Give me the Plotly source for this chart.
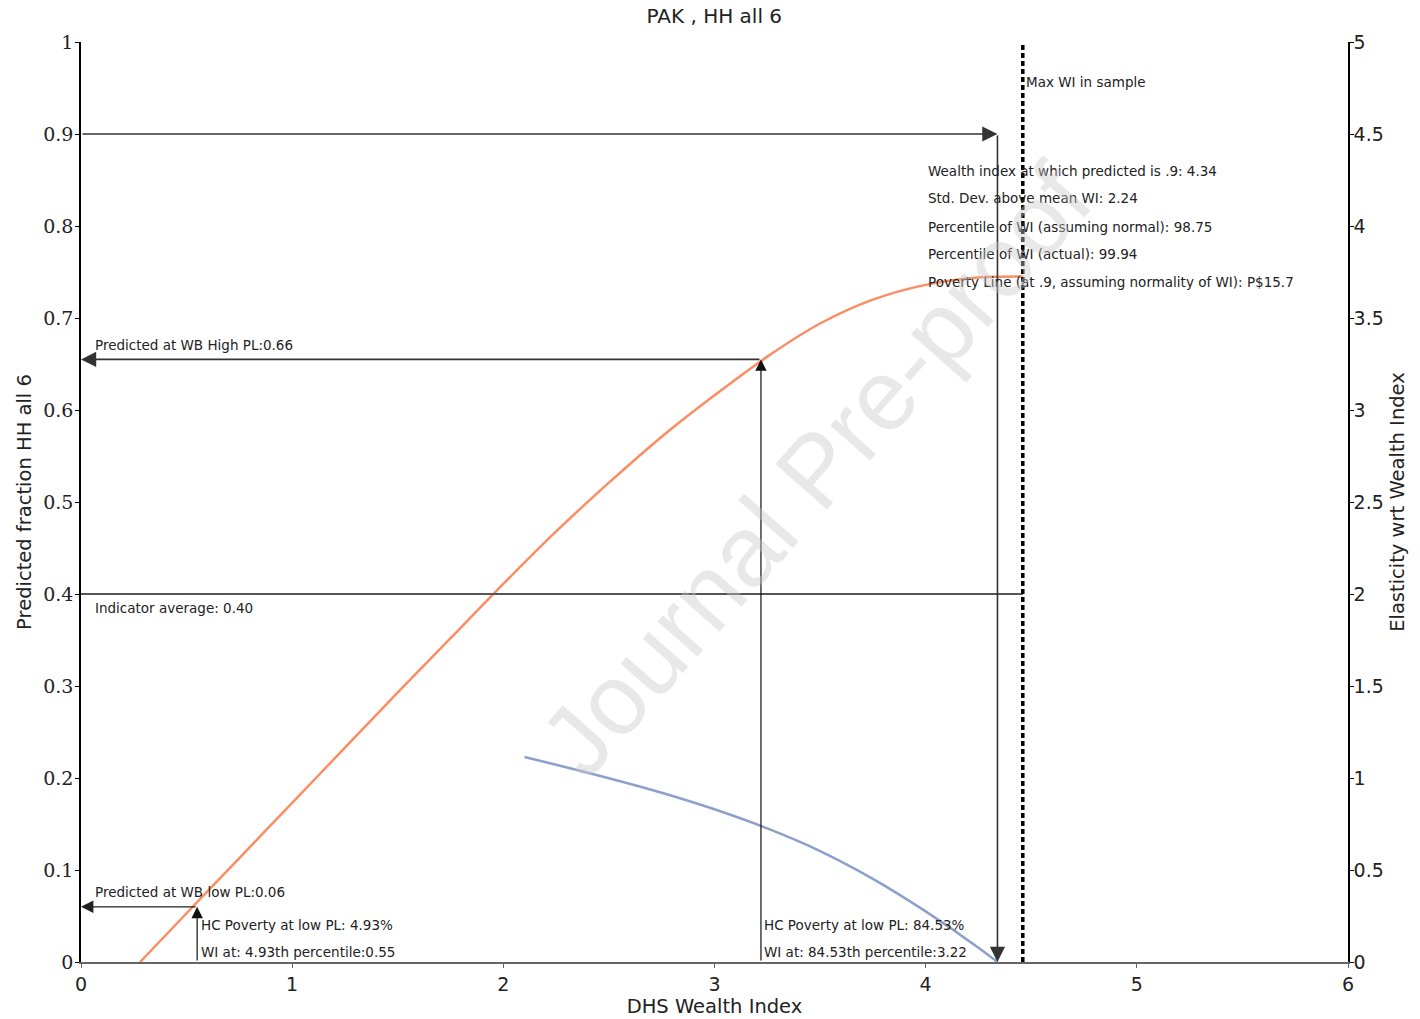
import plotly.graph_objects as go

# Predicted fraction (left axis)
wi_pred = [0.28, 0.5, 0.75, 1.0, 1.25, 1.5, 1.75, 2.0, 2.25, 2.5, 2.75, 3.0, 3.25, 3.5, 3.75, 4.0, 4.25, 4.46]
pred = [0.0, 0.053, 0.113, 0.173, 0.233, 0.293, 0.352, 0.411, 0.468, 0.521, 0.571, 0.616, 0.658, 0.694, 0.720, 0.736, 0.744, 0.745]

# Elasticity (right axis)
wi_elas = [2.10, 2.25, 2.5, 2.75, 3.0, 3.25, 3.5, 3.75, 4.0, 4.25, 4.34]
elas = [1.114, 1.072, 0.999, 0.920, 0.830, 0.726, 0.603, 0.452, 0.275, 0.078, 0.0]

# Reference values
max_wi = 4.46
wi_at_90 = 4.34
indicator_avg = 0.40
low_pl_wi, low_pl_pred = 0.55, 0.06
high_pl_wi, high_pl_pred = 3.22, 0.655

info_lines = [
    "Wealth index at which predicted is .9: 4.34",
    "Std. Dev. above mean WI: 2.24",
    "Percentile of WI (assuming normal): 98.75",
    "Percentile of WI (actual): 99.94",
    "Poverty Line (at .9, assuming normality of WI): P$15.7",
]
info_y = [0.860, 0.830, 0.799, 0.770, 0.739]

ANN_FONT = dict(family="DejaVu Sans", size=13.5, color="#222")
LINE_C = "#555555"
TXT_C = "#222"

fig = go.Figure()

fig.add_trace(go.Scatter(x=wi_pred, y=pred, mode="lines", line=dict(color="#fc8d62", width=2.5, shape="spline", smoothing=0.8),
                         showlegend=False, hoverinfo="skip"))
fig.add_trace(go.Scatter(x=wi_elas, y=elas, mode="lines", line=dict(color="#8da0cb", width=2.5, shape="spline", smoothing=0.8),
                         yaxis="y2", showlegend=False, hoverinfo="skip"))

shapes = []
shapes.append(dict(type="line", xref="x", yref="y", x0=0, x1=max_wi, y0=indicator_avg, y1=indicator_avg,
                   line=dict(color=LINE_C, width=1.8)))
shapes.append(dict(type="line", xref="x", yref="y", x0=max_wi, x1=max_wi, y0=0, y1=1,
                   line=dict(color="black", width=3.5, dash="5px,3px")))
fig.update_layout(shapes=shapes)

annotations = []

def arrow(x, y, ax, ay, color="#111", width=1.3):
    annotations.append(dict(x=x, y=y, ax=ax, ay=ay, xref="x", yref="y", axref="x", ayref="y",
                            text="", showarrow=True, arrowhead=2, arrowsize=1.9, arrowwidth=width,
                            arrowcolor=color, standoff=0, startstandoff=0))

arrow(wi_at_90, 0.9, 0, 0.9, color="#333", width=1.6)
arrow(wi_at_90, 0, wi_at_90, 0.9, color="#333", width=1.6)
arrow(0, high_pl_pred, high_pl_wi, high_pl_pred, color="#333", width=1.6)
arrow(high_pl_wi, high_pl_pred, high_pl_wi, 0, color="#111", width=1.2)
arrow(0, low_pl_pred, low_pl_wi, low_pl_pred, color="#222", width=1.3)
arrow(low_pl_wi, low_pl_pred, low_pl_wi, 0, color="#111", width=1.2)

def label(x, y, text):
    annotations.append(dict(x=x, y=y, xref="x", yref="y", text=text, showarrow=False,
                            xanchor="left", yanchor="middle", font=ANN_FONT))

label(4.465, 0.9565, "Max WI in sample")
for t, yy in zip(info_lines, info_y):
    label(4.0, yy, t)
label(0.058, 0.671, "Predicted at WB High PL:0.66")
label(0.058, 0.385, "Indicator average: 0.40")
label(0.058, 0.076, "Predicted at WB low PL:0.06")
label(0.56, 0.040, "HC Poverty at low PL: 4.93%")
label(0.56, 0.011, "WI at: 4.93th percentile:0.55")
label(3.225, 0.040, "HC Poverty at low PL: 84.53%")
label(3.225, 0.011, "WI at: 84.53th percentile:3.22")

annotations.append(dict(x=3.476, y=0.535, xref="x", yref="y", text="Journal Pre-proof", showarrow=False,
                        textangle=-48.6, xanchor="center", yanchor="middle",
                        font=dict(family="Liberation Sans", size=100, color="rgba(200,200,200,0.42)")))

fig.update_layout(annotations=annotations)

fig.update_layout(
    width=1420, height=1019,
    margin=dict(l=81, r=72, t=42, b=57, autoexpand=False),
    paper_bgcolor="white", plot_bgcolor="white",
    title=dict(text="PAK , HH all 6", x=0.503, xanchor="center", y=1 - 16 / 1019, yanchor="middle",
               font=dict(family="DejaVu Sans", size=20, color=TXT_C)),
    xaxis=dict(range=[0, 6], dtick=1, tick0=0, showgrid=False, zeroline=False, automargin=False,
               showline=True, linecolor="#666", linewidth=2, ticks="outside", ticklen=4, tickcolor="#666",
               tickfont=dict(family="DejaVu Sans", size=19, color=TXT_C),
               title=dict(text="DHS Wealth Index", standoff=6, font=dict(family="DejaVu Sans", size=19.5, color=TXT_C))),
    yaxis=dict(range=[0, 1], dtick=0.1, tick0=0, showgrid=False, zeroline=False, automargin=False,
               showline=True, linecolor="black", linewidth=1.5, ticks="outside", ticklen=4, tickcolor="black",
               tickfont=dict(family="DejaVu Serif", size=19, color=TXT_C), ticklabelstandoff=-2,
               title=dict(text="Predicted fraction HH all 6", standoff=6,
                          font=dict(family="DejaVu Sans", size=19.5, color=TXT_C))),
    yaxis2=dict(range=[0, 5], dtick=0.5, tick0=0, overlaying="y", side="right", showgrid=False, zeroline=False,
                automargin=False,
                showline=True, linecolor="black", linewidth=1.5, ticks="outside", ticklen=4, tickcolor="black",
                tickfont=dict(family="DejaVu Sans", size=19, color=TXT_C), ticklabelstandoff=-4,
                title=dict(text="Elasticity wrt Wealth Index", standoff=8,
                           font=dict(family="DejaVu Sans", size=19.5, color=TXT_C))),
)

fig.write_html("out.html")
